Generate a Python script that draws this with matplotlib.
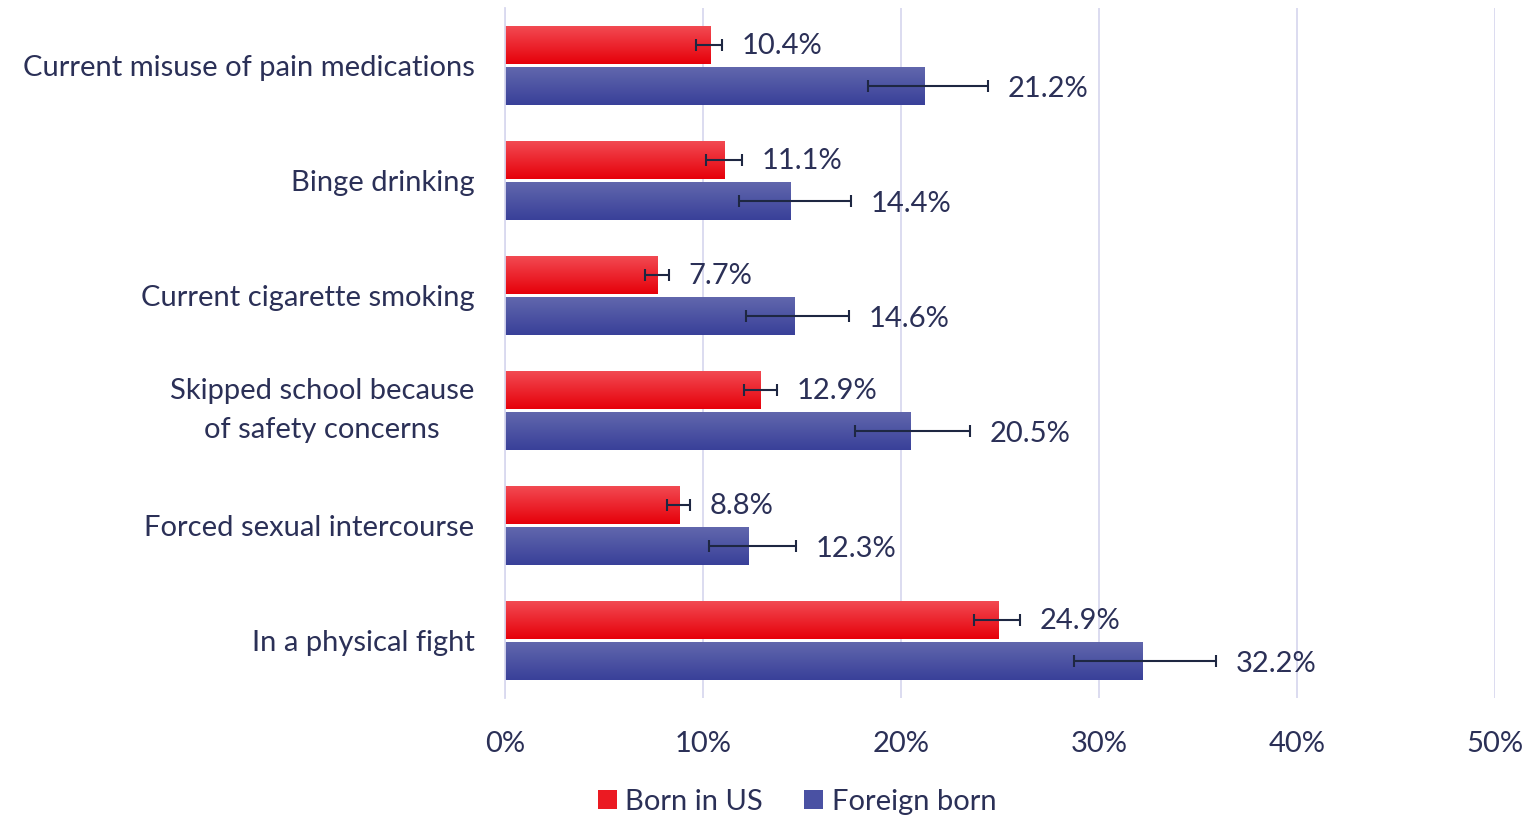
import matplotlib
matplotlib.use("Agg")
import matplotlib.pyplot as plt
import numpy as np
from matplotlib.patches import Patch

plt.rcParams['font.family'] = ['Lato', 'DejaVu Sans']

categories = ["Current misuse of pain medications", "Binge drinking", "Current cigarette smoking",
              "Skipped school because\nof safety concerns", "Forced sexual intercourse", "In a physical fight"]
born_us = [10.4, 11.1, 7.7, 12.9, 8.8, 24.9]
born_us_lo = [9.65, 10.15, 7.07, 12.07, 8.18, 23.69]
born_us_hi = [10.96, 11.97, 8.28, 13.74, 9.34, 26.01]
foreign = [21.2, 14.4, 14.6, 20.5, 12.3, 32.2]
foreign_lo = [18.33, 11.82, 12.17, 17.68, 10.30, 28.74]
foreign_hi = [24.39, 17.47, 17.37, 23.48, 14.70, 35.91]
xticks = [0, 10, 20, 30, 40, 50]
series_names = ["Born in US", "Foreign born"]

text_color = "#2b3057"
grid_color = "#d9d9ef"
FS = 21

fig = plt.figure(figsize=(15.29, 8.18), dpi=100)
ax = fig.add_axes([505/1529, 1-698/818, 990/1529, 690/818])

n = len(categories)
y = np.arange(n)
h = 0.33
off = 0.178

def gradient_bars(bars, top_col, bot_col):
    c1 = np.array(matplotlib.colors.to_rgb(top_col))
    c2 = np.array(matplotlib.colors.to_rgb(bot_col))
    t = np.linspace(0, 1, 64)[:, None]
    img = (c1 * (1 - t) + c2 * t)[:, None, :]
    for b in bars:
        x0, y0 = b.get_x(), b.get_y()
        w, hh = b.get_width(), b.get_height()
        im = ax.imshow(img, extent=[x0, x0 + w, y0 + hh, y0], aspect='auto', zorder=2,
                       origin='upper', interpolation='bilinear')
        im.set_clip_path(b)
        b.set_alpha(0)

b1 = ax.barh(y - off, born_us, height=h, color="#eb0c14", zorder=2)
b2 = ax.barh(y + off, foreign, height=h, color="#3f479c", zorder=2)
gradient_bars(b1, "#f24a52", "#e6000a")
gradient_bars(b2, "#6167ad", "#394099")

bu = np.array(born_us); fo = np.array(foreign)
ax.errorbar(born_us, y - off, xerr=[bu - np.array(born_us_lo), np.array(born_us_hi) - bu],
            fmt='none', ecolor="#1e2742", elinewidth=1.5, capsize=4.5, capthick=1.5, zorder=3)
ax.errorbar(foreign, y + off, xerr=[fo - np.array(foreign_lo), np.array(foreign_hi) - fo],
            fmt='none', ecolor="#1e2742", elinewidth=1.5, capsize=4.5, capthick=1.5, zorder=3)

for v, hi, yy in zip(born_us, born_us_hi, y - off):
    ax.annotate(f"{v:.1f}%", (hi, yy), xytext=(14, -1), textcoords='offset points',
                va='center', ha='left', fontsize=FS, color=text_color)
for v, hi, yy in zip(foreign, foreign_hi, y + off):
    ax.annotate(f"{v:.1f}%", (hi, yy), xytext=(14, -2.5), textcoords='offset points',
                va='center', ha='left', fontsize=FS, color=text_color)

ax.set_xlim(0, 50)
ax.set_ylim(n - 0.5, -0.5)
ax.set_xticks(xticks)
ax.set_xticklabels([f"{t}%" for t in xticks], fontsize=FS, color=text_color)
ax.set_yticks(y)
ax.set_yticklabels(categories, fontsize=FS, color=text_color, linespacing=1.6)
for lab in ax.get_yticklabels():
    lab.set_horizontalalignment('right')
    lab.set_multialignment('center')
    if "\n" in lab.get_text():
        lab.set_verticalalignment('center')
ax.tick_params(axis='both', length=0)
ax.tick_params(axis='y', pad=22)
ax.tick_params(axis='x', pad=24)
ax.grid(axis='x', color=grid_color, linewidth=1.3, zorder=0)
ax.set_axisbelow(True)
for s in ['top', 'right', 'bottom']:
    ax.spines[s].set_visible(False)
ax.spines['left'].set_color(grid_color)
ax.spines['left'].set_linewidth(1.3)

handles = [Patch(facecolor="#eb1a22"), Patch(facecolor="#4a51a3")]
fig.legend(handles, series_names, loc='center', bbox_to_anchor=(797/1529, 1-802/818), ncol=2,
           frameon=False, fontsize=FS, labelcolor=text_color, handlelength=0.65, handleheight=0.65,
           handletextpad=0.3, columnspacing=1.4)

fig.savefig("out.png", dpi=100)
